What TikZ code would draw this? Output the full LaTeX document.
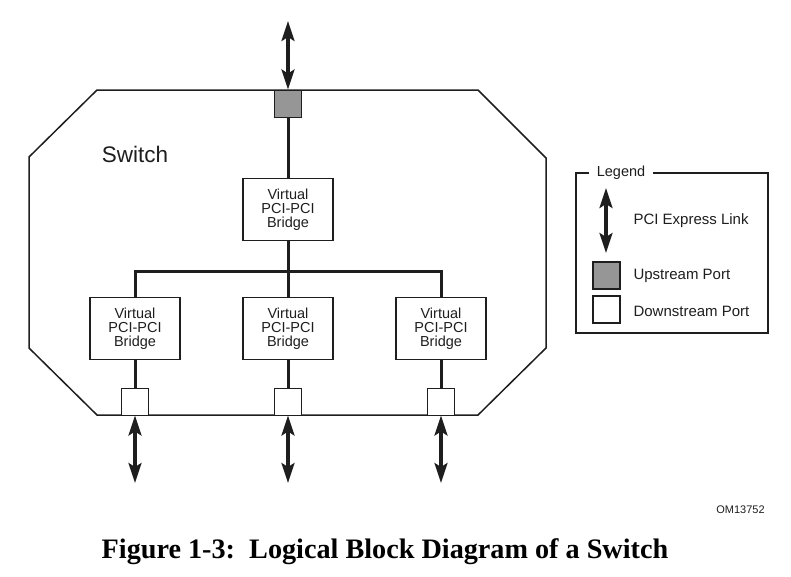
\documentclass[tikz,border=0pt]{standalone}
\usepackage{fontspec}
\setmainfont{Liberation Sans}
\newfontfamily\capfont{Liberation Serif}
\usetikzlibrary{arrows.meta}
\definecolor{inkgray}{RGB}{30,30,30}
\definecolor{portgray}{RGB}{150,150,150}
\tikzset{
  bridge/.style={draw=inkgray, line width=1.5pt, minimum width=90pt, minimum height=62pt, inner sep=0pt, align=center, font=\fontsize{14.5}{14}\selectfont, text=inkgray},
  port/.style={draw=inkgray, line width=1pt, minimum size=27pt, inner sep=0pt},
  wire/.style={draw=inkgray, line width=3pt},
  link/.style={draw=inkgray, line width=3.2pt, {Stealth[length=20pt,width=13pt,inset=4pt]}-{Stealth[length=20pt,width=13pt,inset=4pt]}},
  legtext/.style={anchor=west, font=\fontsize{15}{18}\selectfont, text=inkgray}
}
\begin{document}
\begin{tikzpicture}[x=1pt,y=-1pt]
  \useasboundingbox (0,0) rectangle (791,576);
  \draw[inkgray, line width=1.5pt] (97,90) -- (478,90) -- (546,158) -- (546,348) -- (478,415) -- (97,415) -- (29,348) -- (29,157) -- cycle;
  \node[font=\fontsize{22.5}{24}\selectfont, text=inkgray] (sw) at (135,154) {Switch};
  \node[port, fill=portgray] (up) at (288,103.5) {};
  \node[bridge] (topbr) at (288,209.5) {Virtual\\PCI-PCI\\Bridge};
  \node[bridge] (lbr) at (135,328.5) {Virtual\\PCI-PCI\\Bridge};
  \node[bridge] (mbr) at (288,328.5) {Virtual\\PCI-PCI\\Bridge};
  \node[bridge] (rbr) at (441,328.5) {Virtual\\PCI-PCI\\Bridge};
  \node[port, fill=white] (lp) at (135,401.5) {};
  \node[port, fill=white] (mp) at (288,401.5) {};
  \node[port, fill=white] (rp) at (441,401.5) {};
  \coordinate (bus) at (288,271);
  \coordinate (uplink) at (288,21);
  \coordinate (llink) at (135,483);
  \coordinate (mlink) at (288,483);
  \coordinate (rlink) at (441,483);
  \draw[wire] (up.south) -- (topbr.north);
  \draw[wire] (topbr.south) -- (mbr.north);
  \draw[wire] (lbr.north) |- (bus) -| (rbr.north);
  \draw[wire] (lbr.south) -- (lp.north);
  \draw[wire] (mbr.south) -- (mp.north);
  \draw[wire] (rbr.south) -- (rp.north);
  \draw[link] (uplink) -- (up.north);
  \draw[link] (lp.south) -- (llink);
  \draw[link] (mp.south) -- (mlink);
  \draw[link] (rp.south) -- (rlink);
  \draw[inkgray, line width=1.2pt] (576,173) rectangle (768,333);
  \node[fill=white, inner xsep=8pt, inner ysep=2pt, font=\fontsize{14.5}{16}\selectfont, text=inkgray] (leg) at (621,173) {Legend};
  \coordinate (legtop) at (606,188);
  \coordinate (legbot) at (606,253);
  \draw[link] (legtop) -- (legbot);
  \node[port, line width=2pt, fill=portgray, minimum size=27pt] (legup) at (606,275.5) {};
  \node[port, line width=2pt, fill=white, minimum size=27pt] (legdown) at (606,309.5) {};
  \node[legtext] (linktext) at (630,221) {PCI Express Link};
  \node[legtext] (uptext) at (630,276) {Upstream Port};
  \node[legtext] (downtext) at (630,311) {Downstream Port};
  \node[font=\fontsize{11}{12}\selectfont, text=inkgray] (om) at (740.5,510) {OM13752};
  \node[anchor=base, font=\capfont\bfseries\fontsize{28.2}{30}\selectfont] (cap) at (385,558) {Figure 1-3:\ \ Logical Block Diagram of a Switch};
\end{tikzpicture}
\end{document}
